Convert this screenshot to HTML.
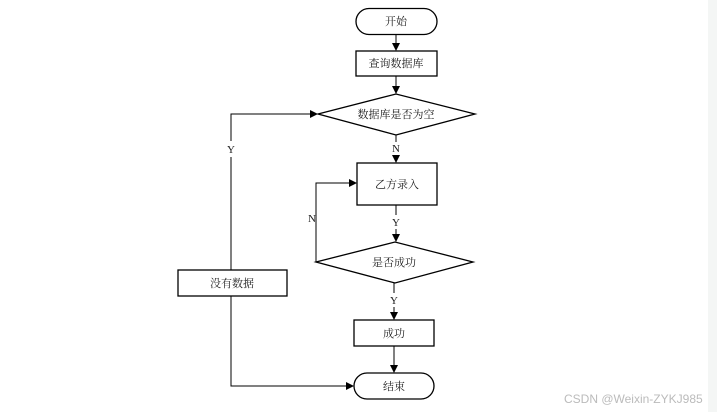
<!DOCTYPE html>
<html><head><meta charset="utf-8"><style>
html,body{margin:0;padding:0;background:#fff;width:717px;height:412px;overflow:hidden}
svg text{font-family:"Liberation Serif","Noto Serif CJK SC",serif;font-size:11px;fill:#222}
</style></head><body>
<svg width="717" height="412" viewBox="0 0 717 412" xmlns="http://www.w3.org/2000/svg">
<defs><marker id="a" markerWidth="8" markerHeight="8" refX="7" refY="4" orient="auto" markerUnits="userSpaceOnUse"><path d="M0,0 L8,4 L0,8 z" fill="#000"/></marker></defs>
<rect x="708" y="0" width="9" height="412" fill="#f4f6f5"/>
<g stroke="#000" stroke-width="1.3" fill="#fff">
<rect x="356" y="8.5" width="81" height="26" rx="13"/>
<rect x="356" y="51" width="81" height="25"/>
<polygon points="318,114 396,94 475,114 396,135"/>
<rect x="357" y="163" width="80" height="42"/>
<polygon points="316,262 395,242 473,262 395,283"/>
<rect x="354" y="320" width="80" height="26"/>
<rect x="354" y="373" width="80" height="26" rx="13"/>
<rect x="178" y="270" width="109" height="26"/>
</g>
<g stroke="#000" stroke-width="1" fill="none">
<line x1="396" y1="35" x2="396" y2="50" marker-end="url(#a)"/>
<line x1="396" y1="76" x2="396" y2="93" marker-end="url(#a)"/>
<line x1="396" y1="135" x2="396" y2="142"/>
<line x1="396" y1="155" x2="396" y2="162" marker-end="url(#a)"/>
<line x1="396" y1="205" x2="396" y2="215"/>
<line x1="396" y1="229" x2="396" y2="241" marker-end="url(#a)"/>
<line x1="394" y1="283" x2="394" y2="293"/>
<line x1="394" y1="307" x2="394" y2="319" marker-end="url(#a)"/>
<line x1="394" y1="346" x2="394" y2="372" marker-end="url(#a)"/>
<polyline points="316,262 316,183 356,183" marker-end="url(#a)"/>
<polyline points="231,141 231,114 317,114" marker-end="url(#a)"/>
<line x1="231" y1="157" x2="231" y2="270"/>
<polyline points="231,296 231,386 353,386" marker-end="url(#a)"/>
</g>
<g text-anchor="middle">
<text x="396" y="25">开始</text>
<text x="396" y="67">查询数据库</text>
<text x="396" y="118">数据库是否为空</text>
<text x="396" y="152" font-size="12">N</text>
<text x="397" y="188">乙方录入</text>
<text x="396" y="226" font-size="12">Y</text>
<text x="312" y="222" font-size="12">N</text>
<text x="394" y="266">是否成功</text>
<text x="394" y="304" font-size="12">Y</text>
<text x="394" y="337">成功</text>
<text x="394" y="390">结束</text>
<text x="232" y="287">没有数据</text>
<text x="231" y="153" font-size="12">Y</text>
</g>
<text x="564" y="403" style="font-family:'Liberation Sans',sans-serif;font-size:12px;fill:#bbb">CSDN @Weixin-ZYKJ985</text>
</svg>
</body></html>
